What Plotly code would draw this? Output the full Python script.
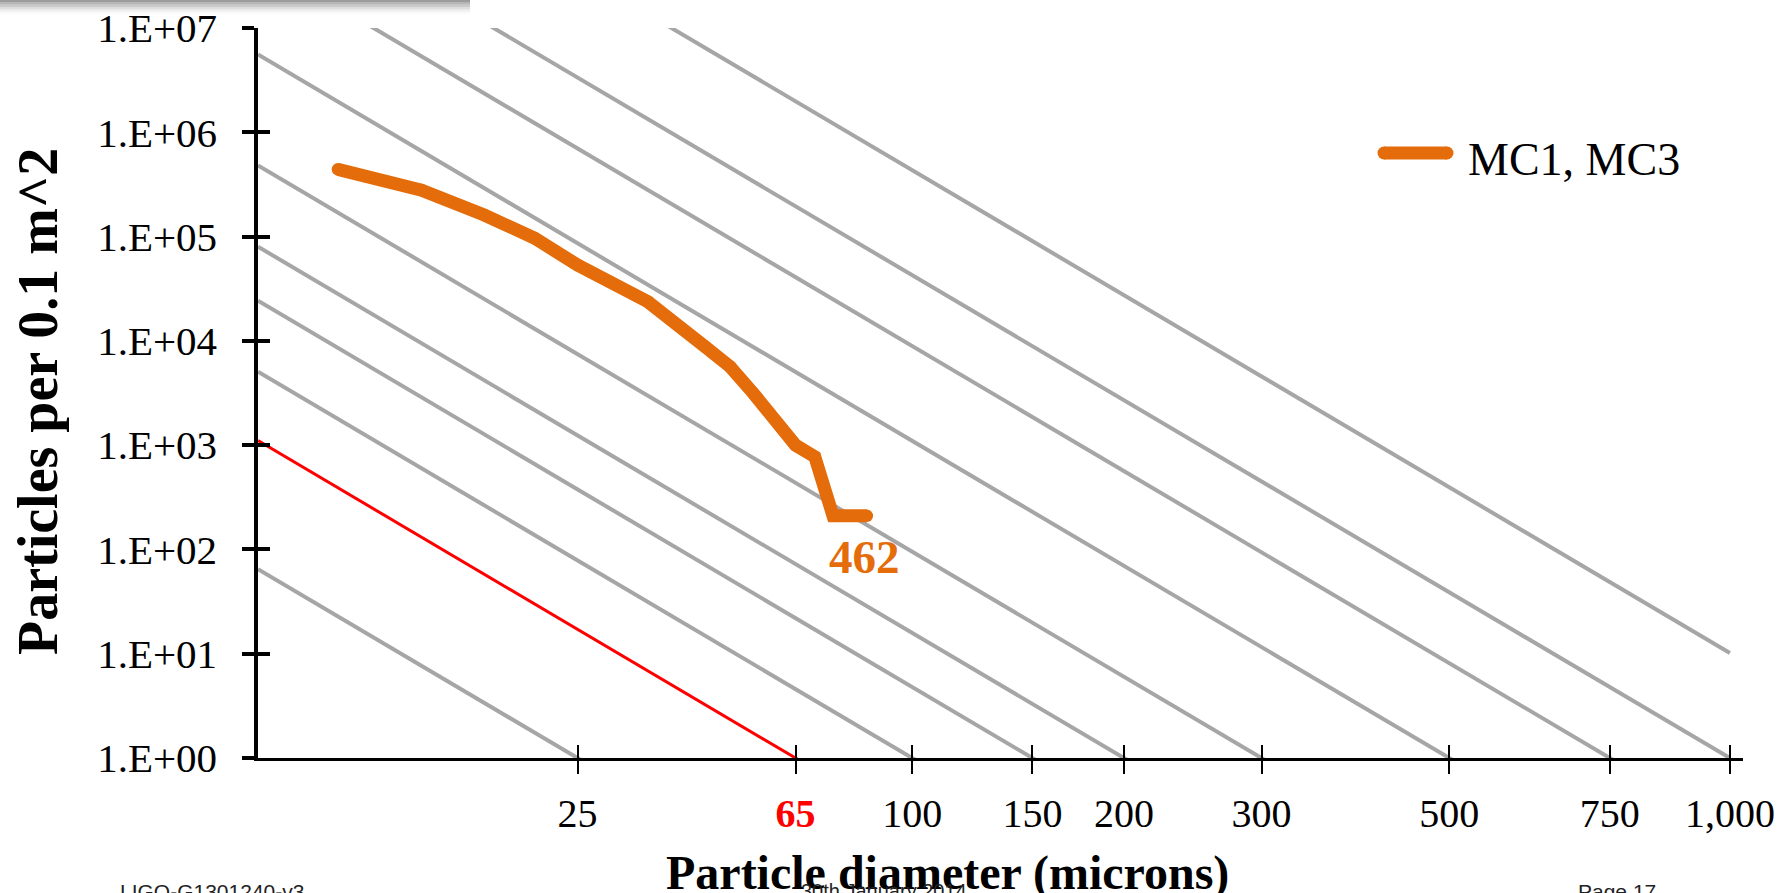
import numpy as np
import plotly.graph_objects as go

# ---------------- data ----------------
diam_um = [5, 10, 15, 20, 25, 35, 45, 50, 55, 65, 70, 75, 85]
particles = [441000, 279000, 161000, 96200, 53300, 23700, 8790, 5650, 3140, 1000, 775, 210, 210]
series_name = "MC1, MC3"
series_level_label = "462"

gray_levels = [25, 100, 150, 200, 300, 500, 750, 1000, 1500]
red_level = 65
level_slope = 0.926  # IEST-STD-CC1246: log N = 0.926 (log^2 L - log^2 x)

x_tick_diam = [25, 65, 100, 150, 200, 300, 500, 750, 1000]
x_tick_text = ["25", "65", "100", "150", "200", "300", "500", "750", "1,000"]
y_tick_vals = [1, 10, 100, 1e3, 1e4, 1e5, 1e6, 1e7]
y_tick_text = ["1.E+00", "1.E+01", "1.E+02", "1.E+03", "1.E+04", "1.E+05", "1.E+06", "1.E+07"]
d_min, d_max = 1, 1000

# ---------------- helpers ----------------
def xs(d):
    return np.log10(np.asarray(d, dtype=float)) ** 2

def level_curve(L):
    d = np.array([d_min, d_max], dtype=float)
    X = xs(d)
    N = 10 ** (level_slope * (np.log10(L) ** 2 - X))
    return X, N

SERIF = "Liberation Serif, Times New Roman, serif"
SANS = "Liberation Sans, Arial, sans-serif"
ORANGE = "#E46C0A"
GRAY = "#A6A6A6"
RED = "#FF0000"

fig = go.Figure()

for L in gray_levels:
    X, N = level_curve(L)
    fig.add_trace(go.Scatter(x=X, y=N, mode="lines", line=dict(color=GRAY, width=4),
                             showlegend=False, hoverinfo="skip"))
X, N = level_curve(red_level)
fig.add_trace(go.Scatter(x=X, y=N, mode="lines", line=dict(color=RED, width=3),
                         showlegend=False, hoverinfo="skip"))

fig.add_trace(go.Scatter(x=xs(diam_um), y=particles, mode="lines+markers", name=series_name,
                         line=dict(color=ORANGE, width=13),
                         marker=dict(color=ORANGE, size=12.5, line=dict(width=0)),
                         showlegend=False))

# dummy trace to create overlay axes for crossing ticks
fig.add_trace(go.Scatter(x=[1], y=[10], xaxis="x2", yaxis="y2", mode="markers",
                         marker=dict(opacity=0), showlegend=False, hoverinfo="skip"))

ticktext_x = [("<b><span style='color:#FF0000'>%s</span></b>" % t) if d == red_level else t
              for d, t in zip(x_tick_diam, x_tick_text)]

W, H = 1789, 893
L_M, R_M, T_M, B_M = 258, 46, 28, 135
x_range = [0, 9.08]
y_range = [0, 7]

axis_common = dict(showgrid=False, zeroline=False, automargin=False)

fig.update_layout(
    width=W, height=H,
    margin=dict(l=L_M, r=R_M, t=T_M, b=B_M, autoexpand=False),
    paper_bgcolor="white", plot_bgcolor="white",
    font=dict(family=SERIF, color="black"),
    xaxis=dict(range=x_range, tickmode="array", tickvals=list(xs(x_tick_diam)), ticktext=ticktext_x,
               ticks="outside", ticklen=13, tickwidth=2, tickcolor="black",
               showline=True, linewidth=3, linecolor="black",
               tickfont=dict(family=SERIF, size=40, color="black"), ticklabelstandoff=5,
               **axis_common),
    yaxis=dict(type="log", range=y_range, tickmode="array", tickvals=y_tick_vals, ticktext=y_tick_text,
               ticks="outside", ticklen=12, tickwidth=3.5, tickcolor="black",
               showline=True, linewidth=3.5, linecolor="black",
               tickfont=dict(family=SERIF, size=41, color="black"), ticklabelstandoff=17,
               **axis_common),
    xaxis2=dict(range=x_range, overlaying="x", anchor="y2", tickmode="array", tickvals=list(xs(x_tick_diam)),
                showticklabels=False, ticks="inside", ticklen=13, tickwidth=2, tickcolor="black",
                showline=False, **axis_common),
    yaxis2=dict(type="log", range=y_range, overlaying="y", anchor="x2", tickmode="array", tickvals=y_tick_vals,
                showticklabels=False, ticks="inside", ticklen=12, tickwidth=3.5, tickcolor="black",
                showline=False, **axis_common),
    showlegend=False,
)

pw = W - L_M - R_M
ph = H - T_M - B_M

def px_x(p):
    return (p - L_M) / pw

def px_y(p):
    return (H - B_M - p) / ph

annos = []
# axis titles
annos.append(dict(text="<b>Particle diameter (microns)</b>", xref="paper", yref="paper",
                  x=px_x(947), y=px_y(873), xanchor="center", yanchor="middle", showarrow=False,
                  font=dict(family=SERIF, size=48, color="black")))
annos.append(dict(text="<b>Particles per 0.1 m^2</b>", xref="paper", yref="paper",
                  x=px_x(38), y=px_y(402), xanchor="center", yanchor="middle", showarrow=False,
                  textangle=-90, font=dict(family=SERIF, size=56, color="black")))
# level label
annos.append(dict(text="<b>%s</b>" % series_level_label, xref="paper", yref="paper",
                  x=px_x(864), y=px_y(557), xanchor="center", yanchor="middle", showarrow=False,
                  font=dict(family=SERIF, size=47, color=ORANGE)))
# legend text
annos.append(dict(text=series_name, xref="paper", yref="paper",
                  x=px_x(1466), y=px_y(159), xanchor="left", yanchor="middle", showarrow=False,
                  font=dict(family=SERIF, size=46, color="black")))
# footer
annos.append(dict(text="LIGO-G1301240-v3", xref="paper", yref="paper", x=px_x(118), y=px_y(878),
                  xanchor="left", yanchor="top", showarrow=False,
                  font=dict(family=SANS, size=21, color="#222222")))
annos.append(dict(text="30th January 2014", xref="paper", yref="paper", x=px_x(884), y=px_y(878),
                  xanchor="center", yanchor="top", showarrow=False,
                  font=dict(family=SANS, size=20, color="#222222")))
annos.append(dict(text="Page 17", xref="paper", yref="paper", x=px_x(1576), y=px_y(878),
                  xanchor="left", yanchor="top", showarrow=False,
                  font=dict(family=SANS, size=21, color="#222222")))
fig.update_layout(annotations=annos)

shapes = []
# legend line with rounded ends
lx0, lx1, ly, lw = 1384, 1447, 153, 13
shapes.append(dict(type="line", xref="paper", yref="paper", x0=px_x(lx0), x1=px_x(lx1),
                   y0=px_y(ly), y1=px_y(ly), line=dict(color=ORANGE, width=lw)))
for cx in (lx0, lx1):
    shapes.append(dict(type="circle", xref="paper", yref="paper",
                       x0=px_x(cx - lw / 2), x1=px_x(cx + lw / 2),
                       y0=px_y(ly + lw / 2), y1=px_y(ly - lw / 2),
                       line=dict(width=0), fillcolor=ORANGE))
# top-left shadow band
for i, op in enumerate([0.6, 0.45, 0.32, 0.2, 0.1, 0.04]):
    shapes.append(dict(type="rect", xref="paper", yref="paper", x0=px_x(0), x1=px_x(470),
                       y0=px_y(i * 2.3), y1=px_y((i + 1) * 2.3), line=dict(width=0),
                       fillcolor="rgba(90,90,90,%.2f)" % op, layer="below"))
fig.update_layout(shapes=shapes)

fig.write_html("out.html", config={"displayModeBar": False},
               post_script="document.body.style.margin='0px';document.body.style.overflow='hidden';")
